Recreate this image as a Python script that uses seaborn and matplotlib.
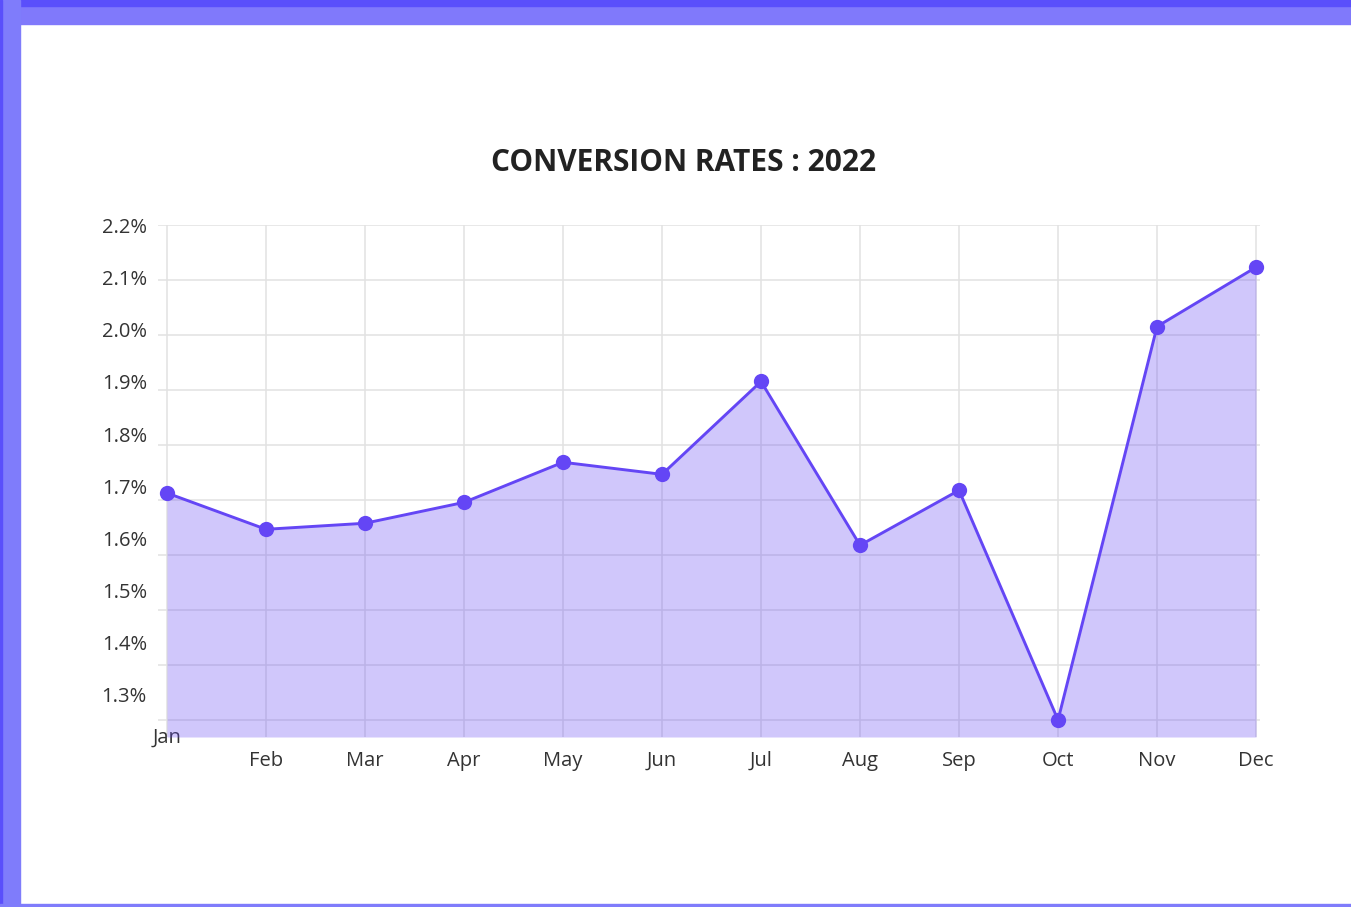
import matplotlib
matplotlib.use("Agg")
import matplotlib.pyplot as plt
from matplotlib.patches import Rectangle
import seaborn as sns
import pandas as pd

# data
months = ["Jan", "Feb", "Mar", "Apr", "May", "Jun", "Jul", "Aug", "Sep", "Oct", "Nov", "Dec"]
rates = [1.713, 1.647, 1.658, 1.696, 1.769, 1.747, 1.916, 1.618, 1.718, 1.300, 2.016, 2.124]
grid_values = [1.3, 1.4, 1.5, 1.6, 1.7, 1.8, 1.9, 2.0, 2.1, 2.2]
tick_labels = ["2.2%", "2.1%", "2.0%", "1.9%", "1.8%", "1.7%", "1.6%", "1.5%", "1.4%", "1.3%"]

purple = "#6446F5"
y_bottom = 1.269

sns.set_theme(style="white")
plt.rcParams["font.family"] = ["Open Sans", "DejaVu Sans"]

df = pd.DataFrame({"month": months, "rate": rates})

fig = plt.figure(figsize=(13.51, 9.07), dpi=100)

# frame around the card
fig.patches.append(Rectangle((0, 1 - 24 / 907), 1, 24 / 907, transform=fig.transFigure, color="#8079FB", zorder=0))
fig.patches.append(Rectangle((0, 1 - 6 / 907), 1, 6 / 907, transform=fig.transFigure, color="#5A4FFB", zorder=0))
fig.patches.append(Rectangle((0, 0), 20 / 1351, 1, transform=fig.transFigure, color="#7F7CFB", zorder=0))
fig.patches.append(Rectangle((0, 0), 2 / 1351, 1, transform=fig.transFigure, color="#5A4FFB", zorder=0))
fig.patches.append(Rectangle((0, 0), 1, 3 / 907, transform=fig.transFigure, color="#7F7CFB", zorder=0))

ax = fig.add_axes([158 / 1351, 1 - 737 / 907, 1102 / 1351, 512 / 907])
ax.set_facecolor("none")

# horizontal gridlines
for g in grid_values:
    ax.axhline(g, color="#e2e2e2", lw=1.1, zorder=0)

ax.fill_between(range(len(months)), rates, y_bottom, color=purple, alpha=0.3, lw=0, zorder=1)
sns.lineplot(data=df, x="month", y="rate", ax=ax, color=purple, lw=2.1,
             marker="o", markersize=11, markeredgewidth=0, zorder=3, clip_on=False)

ax.set_xlim(-0.091, 11.04)
ax.set_ylim(y_bottom, 2.2008)

# y labels sit on their own spacing, not on the gridlines
label_pos = [2.2 - i * 0.0949 for i in range(len(tick_labels))]
ax.set_yticks(label_pos)
ax.set_yticklabels(tick_labels)
ax.set_xticks(range(len(months)))
ax.set_xticklabels(months)
ax.xaxis.grid(True, color="#e2e2e2", lw=1.1, zorder=0)
ax.yaxis.grid(False)
ax.tick_params(axis="both", length=0, labelsize=14.5, colors="#333333")
ax.tick_params(axis="y", pad=8)
ax.tick_params(axis="x", pad=10)
ax.xaxis.get_major_ticks()[0].set_pad(-7)
ax.set_xlabel("")
ax.set_ylabel("")
sns.despine(ax=ax, left=True, bottom=True)

fig.text(684 / 1351, 1 - 163 / 907, "CONVERSION RATES : 2022", ha="center", va="center",
         fontsize=21.5, fontweight="bold", color="#222222")

fig.savefig("out.png", dpi=100, facecolor="white")
